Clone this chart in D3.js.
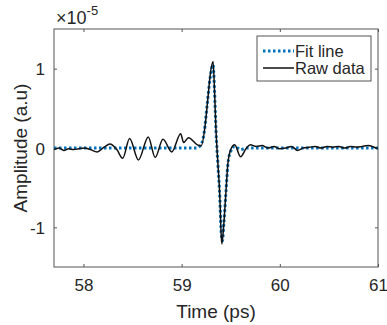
<!DOCTYPE html>
<html><head><meta charset="utf-8">
<script src="https://cdn.jsdelivr.net/npm/d3@7"></script>
<style>body{margin:0;background:#fff}svg{display:block}text{font-family:"Liberation Sans",Arial,sans-serif}</style>
</head><body><svg id="c" width="387" height="325"></svg>
<script>
const xTicks = [58, 59, 60, 61];
const yTicks = [-1, 0, 1];
const seriesNames = ["Fit line", "Raw data"];
// amplitude in units of 1e-5
const rawTime = [57.70,57.75,57.80,57.85,57.90,57.95,58.01,58.07,58.14,58.21,58.27,58.34,58.40,58.47,58.56,58.66,58.73,58.81,58.90,58.99,59.02,59.07,59.16,59.20,59.24,59.27,59.29,59.32,59.335,59.35,59.37,59.39,59.40,59.41,59.43,59.45,59.47,59.50,59.54,59.60,59.66,59.70,59.76,59.82,59.88,59.94,60.00,60.06,60.12,60.18,60.24,60.30,60.36,60.42,60.48,60.54,60.60,60.66,60.72,60.78,60.84,60.90,60.96,61.00];
const rawAmp = [-0.02,0.00,-0.03,-0.01,-0.02,-0.01,0.00,-0.02,-0.05,0.01,0.05,-0.02,-0.13,0.12,-0.15,0.14,-0.12,0.11,-0.05,0.18,0.07,0.13,0.04,0.03,0.29,0.66,0.91,1.09,0.72,0.22,-0.21,-0.64,-1.02,-1.21,-0.95,-0.58,-0.21,-0.02,0.04,-0.11,0.00,0.04,0.02,0.03,0.00,0.02,-0.01,0.00,0.02,-0.03,0.00,0.01,0.02,0.00,0.02,0.01,0.02,0.00,0.02,0.01,0.02,0.03,0.01,-0.01];
const fitTime = [57.70,59.15,59.19,59.23,59.26,59.29,59.32,59.335,59.35,59.37,59.39,59.40,59.415,59.43,59.45,59.47,59.50,59.54,59.60,59.66,61.00];
const fitAmp = [0,0,0.03,0.20,0.55,0.88,1.05,0.72,0.22,-0.22,-0.66,-1.00,-1.17,-0.95,-0.58,-0.22,-0.04,0.02,-0.02,0,0];

const svg = d3.select("#c");
const L = 54, R = 378, T = 29, B = 267;
const x = d3.scaleLinear().domain([57.7, 61]).range([L, R]);
const y = d3.scaleLinear().domain([-1.5, 1.5]).range([B, T]);
const axisColor = "#555", textColor = "#262626";
const fmt = d => String(d);

const g = svg.append("g");
g.append("rect").attr("x", L).attr("y", T).attr("width", R - L).attr("height", B - T)
  .attr("fill", "none").attr("stroke", axisColor).attr("stroke-width", 1);

const xa = g.append("g").attr("transform", `translate(0,${B})`)
  .call(d3.axisBottom(x).tickValues(xTicks).tickSizeInner(-3).tickSizeOuter(0).tickPadding(12).tickFormat(fmt));
const xt = g.append("g").attr("transform", `translate(0,${T})`)
  .call(d3.axisTop(x).tickValues(xTicks).tickSizeInner(-3).tickSizeOuter(0).tickFormat(""));
const ya = g.append("g").attr("transform", `translate(${L},0)`)
  .call(d3.axisLeft(y).tickValues(yTicks).tickSizeInner(-3).tickSizeOuter(0).tickPadding(9).tickFormat(fmt));
const yr = g.append("g").attr("transform", `translate(${R},0)`)
  .call(d3.axisRight(y).tickValues(yTicks).tickSizeInner(-3).tickSizeOuter(0).tickFormat(""));
[xa, xt, ya, yr].forEach(a => {
  a.select(".domain").remove();
  a.selectAll(".tick line").attr("stroke", axisColor);
  a.selectAll(".tick text").attr("fill", textColor).style("font-size", "17px").attr("font-family", null);
});
ya.selectAll(".tick text").attr("dy", "0.36em");

svg.append("text").attr("x", (L + R) / 2).attr("y", 318).attr("text-anchor", "middle")
  .attr("fill", textColor).style("font-size", "19px").text("Time (ps)");
svg.append("text").attr("transform", `translate(27,${(T + B) / 2}) rotate(-90)`).attr("text-anchor", "middle")
  .attr("fill", textColor).style("font-size", "19px").text("Amplitude (a.u)");
const ex = svg.append("text").attr("x", 56).attr("y", 24).attr("fill", textColor).style("font-size", "18px");
ex.append("tspan").text("\u00d710");
ex.append("tspan").attr("dy", -9).style("font-size", "13px").text("-5");

svg.append("clipPath").attr("id", "pc").append("rect")
  .attr("x", L).attr("y", T).attr("width", R - L).attr("height", B - T);
const plot = svg.append("g").attr("clip-path", "url(#pc)");

const fitData = fitTime.map((t, i) => [t, fitAmp[i]]);
const rawData = rawTime.map((t, i) => [t, rawAmp[i]]);
const line = d3.line().x(d => x(d[0])).y(d => y(d[1])).curve(d3.curveMonotoneX);

plot.append("path").datum(fitData).attr("d", line).attr("fill", "none")
  .attr("stroke", "#0072BD").attr("stroke-width", 3).attr("stroke-dasharray", "2.5 2.5");
plot.append("path").datum(rawData).attr("d", line).attr("fill", "none")
  .attr("stroke", "#111").attr("stroke-width", 1.5);

const lg = svg.append("g");
lg.append("rect").attr("x", 257).attr("y", 36).attr("width", 114).attr("height", 45)
  .attr("fill", "#fff").attr("stroke", axisColor).attr("stroke-width", 1);
const lrows = [
  {name: seriesNames[0], color: "#0072BD", w: 3, dash: "2.5 2.5", yy: 51},
  {name: seriesNames[1], color: "#111", w: 1.5, dash: null, yy: 68}
];
lrows.forEach(r => {
  lg.append("line").attr("x1", 263).attr("x2", 294).attr("y1", r.yy).attr("y2", r.yy)
    .attr("stroke", r.color).attr("stroke-width", r.w).attr("stroke-dasharray", r.dash);
  lg.append("text").attr("x", 295).attr("y", r.yy).attr("dy", "0.36em").attr("fill", textColor)
    .style("font-size", "16.5px").text(r.name);
});
</script></body></html>
